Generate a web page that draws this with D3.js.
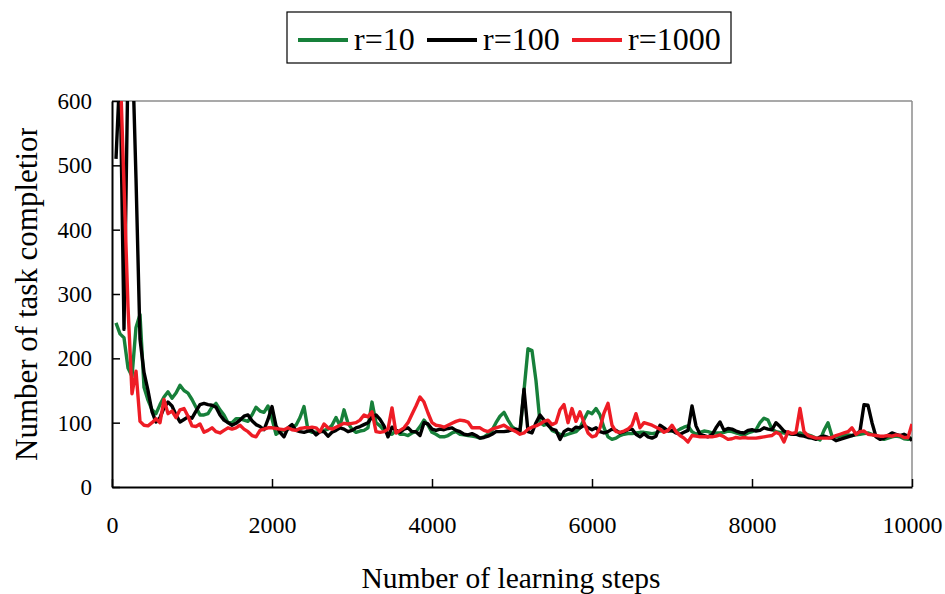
<!DOCTYPE html>
<html>
<head>
<meta charset="utf-8">
<script src="https://cdn.jsdelivr.net/npm/d3@7"></script>
<style>
  body { margin: 0; background: #fff; }
  svg { display: block; font-family: "Liberation Serif", "Times New Roman", serif; }
</style>
</head>
<body>
<svg id="chart" width="945" height="594"></svg>
<script>
// learning steps, every 50
const steps = d3.range(50, 10050, 50);

const seriesNames = ['r=10', 'r=100', 'r=1000'];
const seriesColors = ['#17803a', '#000000', '#ee1c25'];

const r10 = [
  255, 238, 232, 185, 172, 248, 268, 155, 135, 120,
  114, 128, 140, 148, 138, 146, 158, 150, 146, 136,
  124, 112, 112, 114, 124, 130, 120, 112, 100, 100,
  106, 106, 104, 102, 112, 124, 118, 116, 126, 106,
  82, 86, 88, 90, 94, 96, 108, 125, 88, 85,
  85, 86, 88, 90, 96, 108, 95, 120, 99, 90,
  85, 87, 88, 92, 132, 100, 95, 88, 83, 82,
  88, 82, 82, 80, 84, 86, 94, 104, 96, 85,
  82, 78, 78, 80, 84, 86, 82, 81, 80, 79,
  78, 76, 78, 82, 88, 100, 110, 116, 104, 94,
  89, 86, 150, 215, 212, 165, 100, 96, 98, 88,
  85, 82, 80, 82, 84, 86, 92, 105, 117, 114,
  122, 112, 92, 78, 74, 76, 80, 82, 83, 83,
  84, 85, 85, 84, 83, 84, 87, 88, 88, 87,
  86, 90, 93, 95, 86, 82, 85, 87, 86, 84,
  84, 84, 85, 87, 86, 84, 82, 81, 84, 86,
  89, 100, 107, 104, 90, 86, 85, 84, 83, 82,
  82, 84, 82, 81, 79, 76, 73, 88, 100, 79,
  78, 79, 80, 81, 80, 81, 82, 83, 84, 82,
  79, 76, 74, 76, 78, 79, 78, 75, 74, 76
];

const r100 = [
  510, 650, 245, 660, 700, 480, 230, 178, 150, 117,
  101, 108, 123, 132, 126, 112, 101, 105, 109, 107,
  118, 128, 130, 128, 127, 124, 112, 104, 100, 96,
  99, 104, 110, 112, 103, 97, 94, 89, 105, 125,
  95, 85, 78, 92, 97, 88, 86, 85, 87, 88,
  81, 86, 86, 79, 85, 88, 92, 90, 86, 88,
  92, 94, 97, 100, 109, 112, 105, 95, 78, 93,
  88, 85, 90, 92, 86, 86, 80, 100, 98, 90,
  88, 90, 89, 91, 92, 88, 86, 82, 81, 83,
  80, 76, 77, 79, 82, 86, 86, 86, 87, 89,
  90, 88, 152, 86, 84, 100, 112, 104, 96, 90,
  88, 74, 86, 90, 88, 93, 92, 96, 92, 89,
  92, 86, 84, 86, 90, 88, 84, 86, 89, 90,
  82, 78, 83, 78, 76, 79, 96, 92, 87, 88,
  84, 82, 85, 88, 126, 95, 82, 80, 78, 81,
  92, 101, 88, 91, 90, 87, 85, 84, 88, 89,
  87, 88, 92, 90, 89, 100, 94, 87, 84, 82,
  82, 80, 79, 77, 76, 74, 78, 79, 77, 76,
  72, 74, 76, 78, 80, 82, 87, 128, 127, 100,
  78, 74, 76, 80, 84, 82, 80, 82, 79, 72
];

const r1000 = [
  680, 660, 470, 280, 145, 180, 102, 96, 95, 100,
  106, 100, 136, 114, 118, 108, 120, 122, 110, 95,
  94, 98, 85, 88, 92, 86, 84, 88, 92, 90,
  92, 96, 90, 86, 80, 78, 88, 90, 92, 92,
  91, 90, 89, 92, 89, 88, 91, 92, 92, 93,
  92, 86, 98, 92, 90, 93, 96, 99, 98, 99,
  100, 104, 112, 109, 117, 86, 85, 86, 90, 123,
  84, 88, 92, 100, 113, 126, 140, 132, 115, 100,
  96, 95, 93, 96, 99, 102, 104, 103, 101, 92,
  92, 92, 88, 86, 90, 92, 94, 96, 92, 89,
  86, 82, 84, 90, 93, 95, 98, 102, 104, 97,
  100, 120, 128, 100, 122, 102, 117, 100, 84, 78,
  80, 92, 115, 130, 96, 86, 85, 87, 90, 96,
  114, 92, 100, 98, 96, 93, 90, 85, 88, 96,
  86, 80, 76, 70, 80, 79, 78, 78, 78, 78,
  79, 81, 78, 74, 75, 77, 76, 77, 76, 76,
  76, 77, 78, 79, 80, 85, 82, 70, 86, 83,
  85, 122, 86, 80, 78, 76, 76, 76, 76, 77,
  80, 82, 84, 86, 92, 82, 86, 87, 82, 81,
  80, 79, 79, 80, 79, 81, 80, 77, 77, 98
];

const xTicks = [0, 2000, 4000, 6000, 8000, 10000];
const yTicks = [0, 100, 200, 300, 400, 500, 600];

const svg = d3.select('#chart');
const plotL = 112, plotR = 912, plotT = 101, plotB = 487;

const x = d3.scaleLinear().domain([0, 10000]).range([plotL, plotR]);
const y = d3.scaleLinear().domain([0, 600]).range([plotB, plotT]);

const defs = svg.append('defs');
defs.append('clipPath').attr('id', 'plotClip')
  .append('rect')
  .attr('x', plotL).attr('y', plotT)
  .attr('width', plotR - plotL).attr('height', plotB - plotT);

// frame: top and right in grey
svg.append('line').attr('x1', plotL).attr('x2', plotR).attr('y1', plotT).attr('y2', plotT)
  .attr('stroke', '#8c8c8c').attr('stroke-width', 1.5);
svg.append('line').attr('x1', plotR).attr('x2', plotR).attr('y1', plotT).attr('y2', plotB)
  .attr('stroke', '#8c8c8c').attr('stroke-width', 1.5);

// lines
const line = d3.line().x((d, i) => x(steps[i])).y(d => y(d));
const plot = svg.append('g').attr('clip-path', 'url(#plotClip)');
[r10, r100, r1000].forEach((vals, k) => {
  plot.append('path')
    .datum(vals)
    .attr('d', line)
    .attr('fill', 'none')
    .attr('stroke', seriesColors[k])
    .attr('stroke-width', 3.4)
    .attr('stroke-linejoin', 'round');
});

// y axis, ticks pointing inward
const yAxis = svg.append('g')
  .attr('transform', `translate(${plotL},0)`)
  .call(d3.axisLeft(y).tickValues(yTicks).tickSize(-8).tickPadding(20).tickSizeOuter(0));
yAxis.select('.domain').attr('stroke-width', 2);
yAxis.selectAll('.tick line').attr('stroke-width', 1.5);
yAxis.selectAll('text').attr('font-size', 23).attr('font-family', 'Liberation Serif').attr('fill', '#000');

// x axis, ticks pointing inward
const xAxis = svg.append('g')
  .attr('transform', `translate(0,${plotB})`)
  .call(d3.axisBottom(x).tickValues(xTicks).tickFormat(d3.format('d'))
    .tickSize(-8).tickPadding(29).tickSizeOuter(0));
xAxis.select('.domain').attr('stroke-width', 2);
xAxis.selectAll('.tick line').attr('stroke-width', 1.5);
xAxis.selectAll('text').attr('font-size', 24).attr('font-family', 'Liberation Serif').attr('fill', '#000');

// axis titles
svg.append('text')
  .attr('x', 511)
  .attr('y', 588)
  .attr('text-anchor', 'middle')
  .attr('font-size', 29.5)
  .text('Number of learning steps');

defs.append('clipPath').attr('id', 'yTitleClip')
  .append('rect').attr('x', 0).attr('y', 128).attr('width', 60).attr('height', 400);
svg.append('g').attr('clip-path', 'url(#yTitleClip)')
  .append('text')
  .attr('transform', 'translate(37,461) rotate(-90)')
  .attr('text-anchor', 'start')
  .attr('font-size', 31)
  .text('Number of task completions');

// legend
const legend = svg.append('g');
legend.append('rect')
  .attr('x', 287).attr('y', 12).attr('width', 444).attr('height', 51)
  .attr('fill', '#fff').attr('stroke', '#000').attr('stroke-width', 1.2);
const legendX = [298, 427, 572];
seriesNames.forEach((name, k) => {
  legend.append('line')
    .attr('x1', legendX[k]).attr('x2', legendX[k] + 50)
    .attr('y1', 40).attr('y2', 40)
    .attr('stroke', seriesColors[k]).attr('stroke-width', 4);
  legend.append('text')
    .attr('x', legendX[k] + 56).attr('y', 50)
    .attr('font-size', 32)
    .text(name);
});
</script>
</body>
</html>
